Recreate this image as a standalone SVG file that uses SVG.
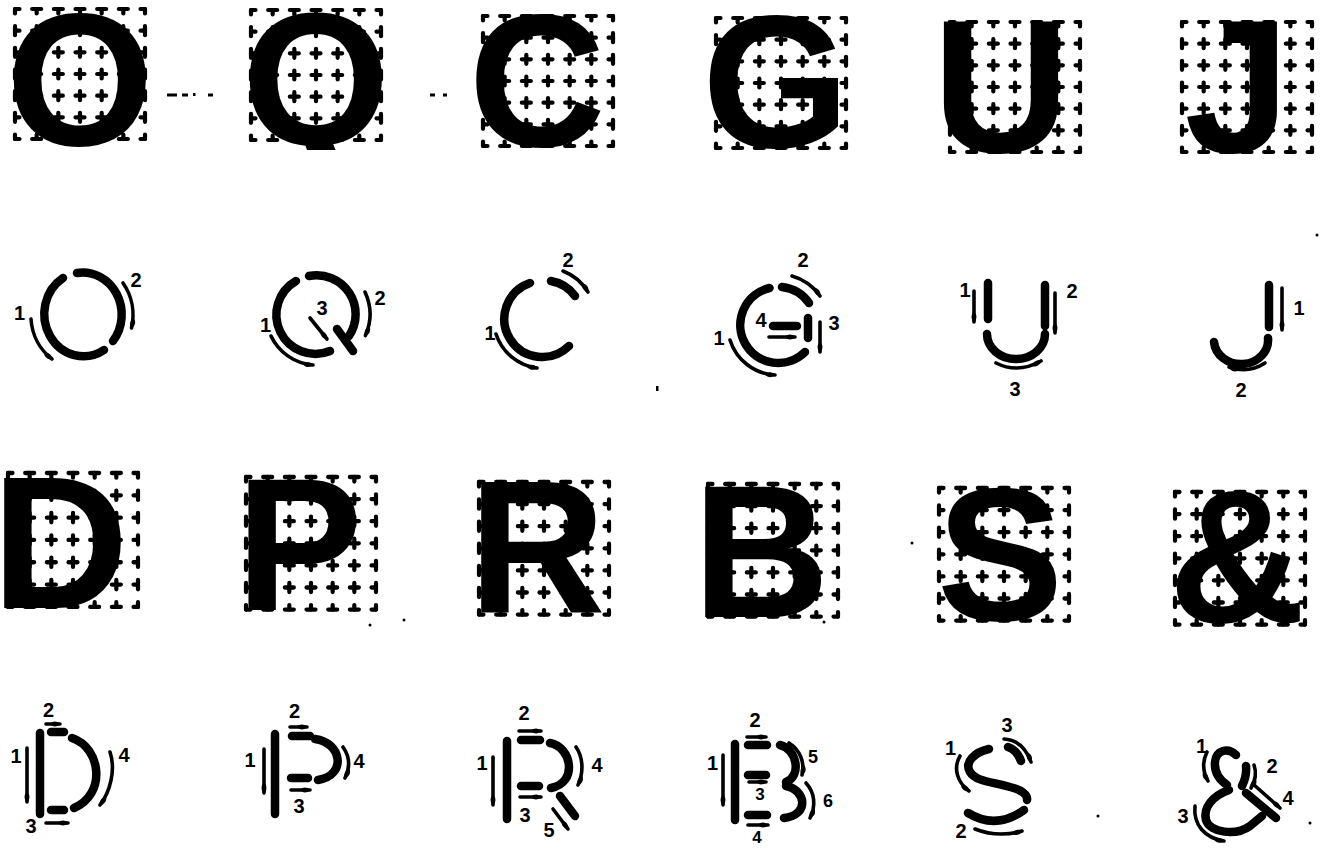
<svg xmlns="http://www.w3.org/2000/svg" width="1322" height="848" viewBox="0 0 1322 848">
<style>
.g line{stroke:#000;stroke-width:4.2;stroke-linecap:round;stroke-dasharray:9 12.67;stroke-dashoffset:4.5}
.L{font-family:"Liberation Sans",Arial,sans-serif;font-weight:bold;font-size:190px;fill:#000;text-anchor:middle}
.s{fill:none;stroke:#000;stroke-width:8.5;stroke-linecap:round}
.a{fill:none;stroke:#000;stroke-width:3.6;stroke-linecap:round;marker-end:url(#ah)}
.n{font-family:"Liberation Sans",Arial,sans-serif;font-weight:bold;font-size:20px;fill:#000;text-anchor:middle}
.k{fill:#000}
</style>
<defs>
<marker id="ah" viewBox="0 -3.5 11 7" refX="10" refY="0" markerWidth="11" markerHeight="7" markerUnits="userSpaceOnUse" orient="auto">
<path d="M0,0 C3,-3.5 7,-3 11,0 C7,3 3,3.5 0,0 Z"/>
</marker>
<clipPath id="qclip"><rect x="240" y="0" width="160" height="150"/></clipPath>
<g id="grid" class="g">
<line x1="0" y1="0" x2="130" y2="0"/><line x1="0" y1="21.67" x2="130" y2="21.67"/><line x1="0" y1="43.33" x2="130" y2="43.33"/><line x1="0" y1="65" x2="130" y2="65"/><line x1="0" y1="86.67" x2="130" y2="86.67"/><line x1="0" y1="108.33" x2="130" y2="108.33"/><line x1="0" y1="130" x2="130" y2="130"/>
<line x1="0" y1="0" x2="0" y2="130"/><line x1="21.67" y1="0" x2="21.67" y2="130"/><line x1="43.33" y1="0" x2="43.33" y2="130"/><line x1="65" y1="0" x2="65" y2="130"/><line x1="86.67" y1="0" x2="86.67" y2="130"/><line x1="108.33" y1="0" x2="108.33" y2="130"/><line x1="130" y1="0" x2="130" y2="130"/>
</g>
</defs>
<rect width="1322" height="848" fill="#fff"/>

<g id="big-O"><use href="#grid" x="15" y="9"/><text class="L" x="80" y="145">O</text></g>
<g id="big-Q"><use href="#grid" x="251" y="10"/><text class="L" x="316" y="145" clip-path="url(#qclip)">Q</text></g>
<g id="big-C"><use href="#grid" x="483" y="16"/><text class="L" x="537" y="146">C</text></g>
<g id="big-G"><use href="#grid" x="716" y="18"/><text class="L" x="776" y="147">G</text></g>
<g id="big-U"><use href="#grid" x="950" y="22"/><text class="L" x="1001" y="152">U</text></g>
<g id="big-J"><use href="#grid" x="1182" y="22"/><text class="L" x="1237" y="152">J</text></g>

<g id="big-D"><use href="#grid" transform="translate(8,473) scale(1,1.03)"/><text class="L" x="60" y="608">D</text></g>
<g id="big-P"><use href="#grid" transform="translate(246,477) scale(1,1.02)"/><text class="L" x="299" y="610">P</text></g>
<g id="big-R"><use href="#grid" transform="translate(479,482) scale(1,1.02)"/><text class="L" x="537" y="613">R</text></g>
<g id="big-B"><use href="#grid" transform="translate(708,484) scale(1,1.02)"/><text class="L" x="761" y="617">B</text></g>
<g id="big-S"><use href="#grid" transform="translate(939,488) scale(1,1.02)"/><text class="L" x="1000" y="620">S</text></g>
<g id="big-amp"><use href="#grid" transform="translate(1175,492) scale(1,1.02)"/><text class="L" x="1237" y="622">&amp;</text></g>

<g id="stroke-O">
<path class="s" d="M63,278 A39 42 0 1 0 104,350"/>
<path class="s" d="M77,273 A39 42 0 0 1 113,341"/>
<path class="a" d="M31,319 A51 54 0 0 0 52,359"/>
<path class="a" d="M123,283 A51 54 0 0 1 131.5,328"/>
<text class="n" x="19.5" y="320">1</text><text class="n" x="136" y="287">2</text>
</g>
<g id="stroke-Q">
<path class="s" d="M296,281 A39 39 0 0 0 330,351"/>
<path class="s" d="M309,276 A39 39 0 0 1 349,336"/>
<path class="s" d="M337,329 L353,351"/>
<path class="a" d="M271,336 A51 51 0 0 0 313,365"/>
<path class="a" d="M365,292 A53 53 0 0 1 365.4,335.6"/>
<path class="a" d="M310,318 L327,339"/>
<text class="n" x="265.5" y="332">1</text><text class="n" x="380" y="305">2</text><text class="n" x="322" y="315">3</text>
</g>
<g id="stroke-C">
<path class="s" d="M530,283 A38 38 0 1 0 569,346"/>
<path class="s" d="M551,281 A38 38 0 0 1 575,296"/>
<path class="a" d="M563,271 A51 51 0 0 1 588,292"/>
<path class="a" d="M496,334 A50 50 0 0 0 537,368"/>
<text class="n" x="490" y="340">1</text><text class="n" x="568" y="267">2</text>
</g>
<g id="stroke-G">
<path class="s" d="M769.5,288 A38 38 0 1 0 805,352"/>
<path class="s" d="M782,287 A38 38 0 0 1 809,303"/>
<path class="a" d="M792,276 A51 51 0 0 1 820,296"/>
<path class="s" d="M808,318 L808,338"/>
<path class="a" d="M820,322 L820,352"/>
<path class="s" d="M773,326 L797,326"/>
<path class="a" d="M769,337 L795,337"/>
<path class="a" d="M730,340 A50 50 0 0 0 775,375"/>
<text class="n" x="719" y="345">1</text><text class="n" x="803" y="267">2</text><text class="n" x="834" y="330">3</text><text class="n" x="761" y="327">4</text>
</g>
<g id="stroke-U">
<path class="s" d="M988,283 L988,319"/>
<path class="a" d="M974,291 L974,322"/>
<path class="s" d="M1045,285 L1045,326"/>
<path class="a" d="M1055,293 L1055,333"/>
<path class="s" d="M987,334 A29 25 0 0 0 1045,334"/>
<path class="a" d="M996,363 Q1018,374 1041,361"/>
<text class="n" x="965" y="297">1</text><text class="n" x="1072" y="298">2</text><text class="n" x="1015" y="396">3</text>
</g>
<g id="stroke-J">
<path class="s" d="M1269,285 L1269,327"/>
<path class="a" d="M1282,288 L1282,330"/>
<path class="s" d="M1268,338 A27 24 0 0 1 1214,342"/>
<path class="a" d="M1265,363 Q1248,374 1229,367"/>
<text class="n" x="1299" y="315">1</text><text class="n" x="1241" y="397">2</text>
</g>

<g id="stroke-D">
<path class="s" d="M40,733 L40,814"/>
<path class="a" d="M27,748 L27,802"/>
<path class="s" d="M51,732 L64,732"/>
<path class="a" d="M46,724 L60,724"/>
<path class="s" d="M51,810 L64,810"/>
<path class="a" d="M46,823 L68,823"/>
<path class="s" d="M72,738 C102,748 106,795 74,808"/>
<path class="a" d="M110,752 C116,770 110,792 100,805"/>
<text class="n" x="16" y="763">1</text><text class="n" x="48.5" y="717">2</text><text class="n" x="31" y="833">3</text><text class="n" x="124" y="762">4</text>
</g>
<g id="stroke-P">
<path class="s" d="M275,734 L275,814"/>
<path class="a" d="M264,749 L264,793"/>
<path class="s" d="M292,736 L310,736"/>
<path class="a" d="M290,727 L307,727"/>
<path class="s" d="M315,739 C341,742 348,775 318,780"/>
<path class="a" d="M343,747 C350,757 350,768 345,778"/>
<path class="s" d="M291,778 L308,778"/>
<path class="a" d="M291,790 L310,790"/>
<text class="n" x="250" y="767">1</text><text class="n" x="294.5" y="718">2</text><text class="n" x="299" y="813">3</text><text class="n" x="359" y="768">4</text>
</g>
<g id="stroke-R">
<path class="s" d="M507,741 L507,819"/>
<path class="a" d="M493,757 L493,805"/>
<path class="s" d="M521,740 L540,740"/>
<path class="a" d="M519,731 L541,731"/>
<path class="s" d="M550,743 C572,747 578,783 551,788"/>
<path class="a" d="M576,747 C583,757 584,772 578,785"/>
<path class="s" d="M521,786 L539,786"/>
<path class="a" d="M520,797 L541,797"/>
<path class="s" d="M560,796 L575,816"/>
<path class="a" d="M553,809 L568,829"/>
<text class="n" x="482" y="770">1</text><text class="n" x="524" y="720">2</text><text class="n" x="525" y="822">3</text><text class="n" x="597" y="772">4</text><text class="n" x="549" y="837">5</text>
</g>
<g id="stroke-B">
<path class="s" d="M735,744 L735,820"/>
<path class="a" d="M723,755 L723,805"/>
<path class="a" d="M747,737 L766,737"/>
<path class="s" d="M748,745 L767,745"/>
<path class="s" d="M748,775 L766,775"/>
<path class="a" d="M749,782 L766,782"/>
<path class="s" d="M748,815 L767,815"/>
<path class="a" d="M748,825 L768,825"/>
<path class="s" d="M780,745 C797,749 802,776 786,782"/>
<path class="a" d="M789,743 C800,750 805,762 802,775"/>
<path class="s" d="M786,786 C806,790 810,815 784,818"/>
<path class="a" d="M806,783 C815,793 816,806 810,818"/>
<text class="n" x="712.5" y="770">1</text><text class="n" x="755" y="727">2</text><text class="n" x="760" y="800" style="font-size:17px">3</text><text class="n" x="757" y="843" style="font-size:17px">4</text><text class="n" x="813" y="763" style="font-size:18px">5</text><text class="n" x="828" y="807" style="font-size:18px">6</text>
</g>
<g id="stroke-S">
<path class="s" d="M989,749 C975,752 964,762 970,772 C976,782 995,782 1010,787 C1022,790 1028,795 1027,800"/>
<path class="a" d="M960,756 C953,768 957,782 969,791"/>
<path class="s" d="M1008,747 Q1017,750 1021,761"/>
<path class="a" d="M1004,739 Q1023,740 1031,762"/>
<path class="s" d="M968,813 Q996,830 1024,810"/>
<path class="a" d="M975,829 Q998,838 1022,831"/>
<text class="n" x="950.5" y="755">1</text><text class="n" x="961" y="838">2</text><text class="n" x="1007" y="732">3</text>
</g>
<g id="stroke-amp">
<path class="s" d="M1236,755 C1228,747 1216,750 1215,762 C1214,773 1220,780 1227,785"/>
<path class="a" d="M1207,752 C1202,762 1203,772 1208,781"/>
<path class="s" d="M1246,766 Q1247,776 1242,786"/>
<path class="a" d="M1254,765 Q1258,776 1251,788"/>
<path class="s" d="M1229,790 C1212,796 1203,808 1206,820 C1210,833 1236,836 1250,826 L1262,816"/>
<path class="a" d="M1195,806 C1193,825 1205,838 1224,841"/>
<path class="s" d="M1246,793 L1276,818"/>
<path class="a" d="M1253,784 L1280,808"/>
<text class="n" x="1201.5" y="753">1</text><text class="n" x="1272" y="773">2</text><text class="n" x="1183" y="823">3</text><text class="n" x="1288" y="805">4</text>
</g>

<g id="specks">
<rect class="k" x="167" y="93.5" width="10" height="3"/><rect class="k" x="182" y="93.5" width="6" height="3"/><rect class="k" x="193" y="93" width="2.5" height="3"/><rect class="k" x="208" y="93.5" width="5" height="3"/>
<rect class="k" x="430" y="93.5" width="5" height="3"/><rect class="k" x="443" y="93.5" width="4" height="3"/>
<rect class="k" x="656" y="386" width="2.5" height="5"/>
<circle class="k" cx="1317" cy="235" r="1.5"/><circle class="k" cx="370" cy="625" r="1.5"/><circle class="k" cx="404" cy="620" r="1.5"/>
<circle class="k" cx="912" cy="543" r="1.5"/><circle class="k" cx="824" cy="622" r="1.5"/><circle class="k" cx="1098" cy="816" r="1.5"/><circle class="k" cx="1310" cy="823" r="1.5"/>
</g>
</svg>
